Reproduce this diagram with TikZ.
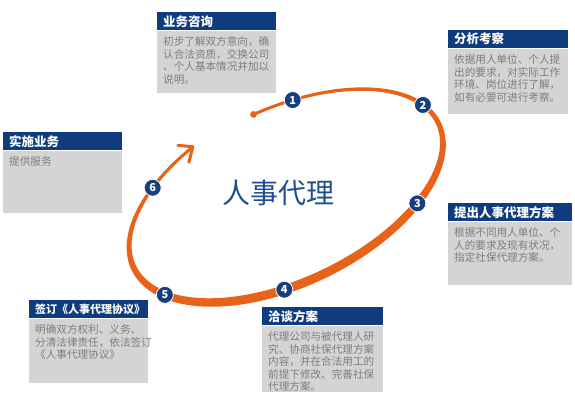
\documentclass[tikz,border=0pt]{standalone}
\usepackage{fontspec}
\newfontfamily\cjk{Noto Sans CJK SC}
\usetikzlibrary{positioning}
\definecolor{headblue}{HTML}{0F3C7C}
\definecolor{cardgray}{HTML}{D4D4D4}
\definecolor{cardink}{HTML}{7D7D7D}
\definecolor{spiralorange}{HTML}{E8621A}
\definecolor{dotblue}{HTML}{173E7E}
\definecolor{titleblue}{HTML}{1F4F8F}
\tikzset{
  cardhead/.style={fill=headblue,anchor=north west,inner sep=0pt,minimum height=18pt},
  cardbody/.style={fill=cardgray,anchor=north west,inner sep=0pt},
  cardtitle/.style={anchor=west,inner sep=0pt,text=white,font=\cjk\bfseries\fontsize{12.5}{12.5}\selectfont},
  cardtext/.style={anchor=north west,inner sep=0pt,align=left,text=cardink,font=\cjk\fontsize{10.6}{12.5}\selectfont},
  stepdot/.style={circle,fill=dotblue,draw=white,line width=0.8pt,text=white,inner sep=0pt,minimum size=17pt,font=\cjk\bfseries\fontsize{11}{11}\selectfont}
}
% name, x, y, width, body height, title, text
\newcommand{\card}[7]{%
  \node[cardhead,minimum width=#4pt] (#1) at (#2,#3) {};
  \node[cardtitle] (#1title) at ([xshift=6pt]#1.west) {#6};
  \node[cardbody,minimum width=#4pt,minimum height=#5pt] (#1body) at (#1.south west) {};
  \node[cardtext] (#1text) at ([xshift=6pt,yshift=-6pt]#1body.north west) {#7};
}

\begin{document}
\begin{tikzpicture}[x=1pt,y=-1pt,
  declare function={
    ang(\t)=89-338*\t;
    mg(\t)=1.05-0.34*\t+0.38*\t*\t;
    wd(\t)=3+6*sin(180*\t*(0.7+0.3*\t))*sin(180*\t*(0.7+0.3*\t));
    eu(\t)=mg(\t)*168*cos(ang(\t));
    ev(\t)=mg(\t)*86*sin(ang(\t));
    px(\t)=290+0.90*eu(\t)-0.435*ev(\t);
    py(\t)=197-0.435*eu(\t)-0.90*ev(\t);
    nn(\t)=sqrt(0.7396*cos(ang(\t))*cos(ang(\t))+2.8224*sin(ang(\t))*sin(ang(\t)));
    nu(\t)=0.86*cos(ang(\t))/nn(\t);
    nv(\t)=1.68*sin(ang(\t))/nn(\t);
    nx(\t)=0.90*nu(\t)-0.435*nv(\t);
    ny(\t)=-0.435*nu(\t)-0.90*nv(\t);
  }]
  \useasboundingbox[fill=white] (0,0) rectangle (575,400);

  % the spiral
  \fill[spiralorange] plot[domain=0:1,samples=160,variable=\s] ({px(\s)+0.5*wd(\s)*nx(\s)},{py(\s)+0.5*wd(\s)*ny(\s)})
    -- plot[domain=1:0,samples=160,variable=\s] ({px(\s)-0.5*wd(\s)*nx(\s)},{py(\s)-0.5*wd(\s)*ny(\s)}) -- cycle;
  \coordinate (start) at ({px(0)},{py(0)});
  \coordinate (tip) at ({px(1)},{py(1)});
  \fill[spiralorange] (start) circle (3.4);
  \draw[spiralorange,line width=3pt,line join=round,line cap=round] (tip) ++(-15,-1.5) -- (tip) -- ++(-4,15.5);

  \foreach \n/\s in {1/0.041,2/0.213,3/0.402,4/0.577,5/0.728,6/0.938}
    \node[stepdot] (d\n) at ({px(\s)},{py(\s)}) {\n};

  \node[text=titleblue,font=\cjk\fontsize{28}{28}\selectfont] (title) at (278,193) {人事代理};

  \card{ask}{157}{12}{119}{62}{业务咨询}{初步了解双方意向，确\\认合法资质，交换公司\\、个人基本情况并加以\\说明。}
  \card{study}{448}{30}{120}{65}{分析考察}{依据用人单位、个人提\\出的要求，对实际工作\\环境、岗位进行了解，\\如有必要可进行考察。}
  \card{serve}{3}{132}{119}{62}{实施业务}{提供服务}
  \card{plan}{448}{203}{124}{63}{提出人事代理方案}{根据不同用人单位、个\\人的要求及现有状况，\\指定社保代理方案。}
  \card{sign}{29}{300}{119}{64}{\fontsize{11}{11}\selectfont 签订《人事代理协议》}{明确双方权利、义务、\\分清法律责任，依法签订\\《人事代理协议》}
  \card{talk}{262}{307}{121}{66}{洽谈方案}{代理公司与被代理人研\\究、协商社保代理方案\\内容，并在合法用工的\\前提下修改、完善社保\\代理方案。}
\end{tikzpicture}
\end{document}
